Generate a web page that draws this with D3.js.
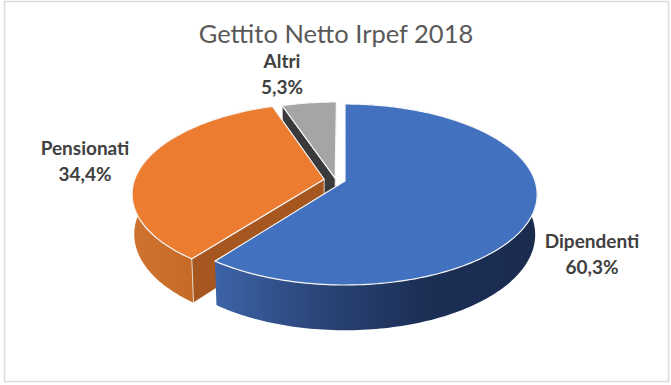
<!DOCTYPE html>
<html>
<head>
<meta charset="utf-8">
<script src="https://cdn.jsdelivr.net/npm/d3@7"></script>
<style>
  body { margin: 0; background: #fff; }
  text { font-family: Lato, sans-serif; }
</style>
</head>
<body>
<svg id="chart"></svg>
<script>
const categories = ['Dipendenti', 'Pensionati', 'Altri'];
const values = [60.3, 34.4, 5.3];
const title = 'Gettito Netto Irpef 2018';

const topColors = ['#4271bf', '#ec7c30', '#a5a5a5'];
const cutColors = ['#1d3158', '#a5571f', '#3a3a3c'];
const sideStops = [['#3c63a8', '#2a4476', '#1b2e54', '#1a2b4e'], ['#cf7330', '#c76c2a', '#c2671f', '#b9621f'], ['#8a8a8a', '#777777']];

// how far each slice is pulled out of the pie, in radius units
const pullX = [0, -0.11, -0.052];
const pullZ = [0, -0.02, -0.03];
// label centres
const labelX = [592, 85, 282];
const labelY = [248, 155, 68];

const width = 671;
const height = 385;

const svg = d3.select('#chart')
  .attr('width', width)
  .attr('height', height);

svg.append('rect')
  .attr('x', 4.5).attr('y', 1.5)
  .attr('width', 664).attr('height', 380)
  .attr('fill', '#fff')
  .attr('stroke', '#dcdcdc')
  .attr('stroke-width', 1.5);

const defs = svg.append('defs');

// simple perspective: things at the back (z < 0) get smaller, so do lower ones
const cx = 345, cy = 181;
const rx = 190, ry = 88.5, depth = 40;
const k = 0.149, m = 0.01;

function project(x, z, h) {
  const w = 1 - k * z + m * h;
  return [cx + rx * x / w, cy + (ry * z + depth * h) / w];
}

function rimPoint(i, a, h) {
  return project(pullX[i] + Math.sin(a), pullZ[i] - Math.cos(a), h);
}

function apexPoint(i, h) {
  return project(pullX[i], pullZ[i], h);
}

function rim(i, a0, a1, h) {
  const pts = d3.range(a0, a1, 0.02).map(a => rimPoint(i, a, h));
  pts.push(rimPoint(i, a1, h));
  return pts;
}

const pie = d3.pie().sort(null).value(d => d);
const slices = pie(values).map((d, i) => ({ ...d, i }));

const line = d3.line().curve(d3.curveLinear);

// back to front
const order = [2, 1, 0];

order.forEach(i => {
  const d = slices[i];
  const g = svg.append('g');

  // outer curved wall
  const ext = d3.extent(rim(i, d.startAngle, d.endAngle, 0), p => p[0]);
  const grad = defs.append('linearGradient')
    .attr('id', 'side' + i)
    .attr('gradientUnits', 'userSpaceOnUse')
    .attr('x1', ext[0]).attr('x2', ext[1])
    .attr('y1', 0).attr('y2', 0);
  sideStops[i].forEach((c, j, all) => {
    grad.append('stop').attr('offset', j / (all.length - 1)).attr('stop-color', c);
  });

  if (i !== 2) {
    const wall = rim(i, d.startAngle, d.endAngle, 0)
      .concat(rim(i, d.startAngle, d.endAngle, 1).reverse());
    g.append('path')
      .attr('d', line(wall) + 'Z')
      .attr('fill', `url(#side${i})`);
  }

  // flat cut wall on the start edge of the slice
  if (d.startAngle > 0) {
    const cut = [apexPoint(i, 0), rimPoint(i, d.startAngle, 0), rimPoint(i, d.startAngle, 1), apexPoint(i, 1)];
    g.append('path')
      .attr('d', line(cut) + 'Z')
      .attr('fill', cutColors[i])
      .attr('stroke', '#f4efe9')
      .attr('stroke-width', 0.8);
  }

  // top face
  const face = [apexPoint(i, 0)].concat(rim(i, d.startAngle, d.endAngle, 0));
  g.append('path')
    .attr('d', line(face) + 'Z')
    .attr('fill', topColors[i])
    .attr('stroke', '#f7f7f7')
    .attr('stroke-width', 1.2)
    .attr('stroke-linejoin', 'round');
});

svg.append('text')
  .attr('x', 336)
  .attr('y', 43)
  .attr('text-anchor', 'middle')
  .attr('font-size', 25.5)
  .attr('fill', '#595959')
  .text(title);

const fmt = v => d3.format('.1f')(v).replace('.', ',') + '%';

const labels = svg.selectAll('.label')
  .data(categories)
  .enter().append('text')
  .attr('class', 'label')
  .attr('text-anchor', 'middle')
  .attr('font-size', 19)
  .attr('font-weight', 700)
  .attr('fill', '#404040');

labels.append('tspan')
  .attr('x', (d, i) => labelX[i])
  .attr('y', (d, i) => labelY[i])
  .text(d => d);

labels.append('tspan')
  .attr('x', (d, i) => labelX[i])
  .attr('y', (d, i) => labelY[i] + 26)
  .text((d, i) => fmt(values[i]));
</script>
</body>
</html>
